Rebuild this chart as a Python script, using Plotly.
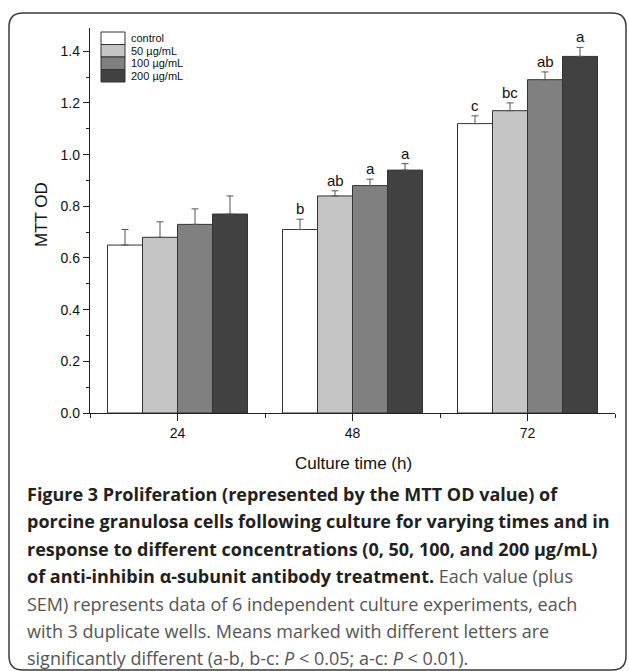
import plotly.graph_objects as go

# ---- data -------------------------------------------------------------
times = ["24", "48", "72"]
groups = ["control", "50 µg/mL", "100 µg/mL", "200 µg/mL"]
means = {
    "control":   [0.65, 0.71, 1.12],
    "50 µg/mL":  [0.68, 0.84, 1.17],
    "100 µg/mL": [0.73, 0.88, 1.29],
    "200 µg/mL": [0.77, 0.94, 1.38],
}
sem = {
    "control":   [0.06, 0.04, 0.03],
    "50 µg/mL":  [0.06, 0.02, 0.03],
    "100 µg/mL": [0.06, 0.025, 0.03],
    "200 µg/mL": [0.07, 0.025, 0.035],
}
letters = {
    "control":   ["", "b", "c"],
    "50 µg/mL":  ["", "ab", "bc"],
    "100 µg/mL": ["", "a", "ab"],
    "200 µg/mL": ["", "a", "a"],
}
fills = {
    "control": "#ffffff",
    "50 µg/mL": "#c5c5c5",
    "100 µg/mL": "#808080",
    "200 µg/mL": "#414141",
}

caption_lines = [
    "<b>Figure 3</b><b> Proliferation (represented by the MTT OD value) of</b>",
    "<b>porcine granulosa cells following culture for varying times and in</b>",
    "<b>response to different concentrations (0, 50, 100, and 200 µg/mL)</b>",
    "<b>of anti-inhibin α-subunit antibody treatment.</b><span style='color:#555'> Each value (plus</span>",
    "<span style='color:#555'>SEM) represents data of 6 independent culture experiments, each</span>",
    "<span style='color:#555'>with 3 duplicate wells. Means marked with different letters are</span>",
    "<span style='color:#555'>significantly different (a-b, b-c: <i>P</i> &lt; 0.05; a-c: <i>P</i> &lt; 0.01).</span>",
]

# ---- page geometry (pixels) -----------------------------------------
W, H = 629, 671
ML, MR, MT, MB = 90, 14, 28, 258
PW, PH = W - ML - MR, H - MT - MB


def px(x):
    return (x - ML) / PW


def py(y):
    return (H - MB - y) / PH


AX = "#222222"
FONT = "Liberation Sans, Arial, sans-serif"

fig = go.Figure()
xpos = list(range(len(times)))
for g in groups:
    fig.add_trace(go.Bar(
        x=xpos, y=means[g], name=g,
        marker=dict(color=fills[g], line=dict(color="#333333", width=1)),
        error_y=dict(type="data", array=sem[g], arrayminus=[0] * len(times),
                     symmetric=False, color="#555555", thickness=1, width=3.5),
        showlegend=False,
    ))

# significance letters above the error bars
ng = len(groups)
bw = 0.8 / ng
for gi, g in enumerate(groups):
    off = -0.4 + bw * (gi + 0.5)
    for ti in range(len(times)):
        if letters[g][ti]:
            fig.add_annotation(
                x=xpos[ti] + off, y=means[g][ti] + sem[g][ti],
                xref="x", yref="y", text=letters[g][ti], showarrow=False,
                yanchor="bottom", yshift=0,
                font=dict(family=FONT, size=15, color="#111111"),
            )

shapes = []
annotations = []

# legend swatches drawn as boxes in the upper-left corner
row_top = [32, 44.5, 57, 69.5]
row_h = 12.5
for gi, g in enumerate(groups):
    y0 = row_top[gi]
    shapes.append(dict(
        type="rect", xref="paper", yref="paper",
        x0=px(101), x1=px(125), y0=py(y0 + row_h), y1=py(y0),
        fillcolor=fills[g], line=dict(color="#333333", width=1),
    ))
    annotations.append(dict(
        x=px(129), y=py(y0 + row_h / 2), xref="paper", yref="paper",
        xanchor="left", yanchor="middle", showarrow=False, text=g,
        font=dict(family=FONT, size=11, color="#111111"),
    ))

# rounded frame around the figure and caption
L, T, R, B, r = 9, 13, 626, 670, 14
path = (
    f"M {px(L)} {py(T + r)} Q {px(L)} {py(T)} {px(L + r)} {py(T)} "
    f"L {px(R - r)} {py(T)} Q {px(R)} {py(T)} {px(R)} {py(T + r)} "
    f"L {px(R)} {py(B - r)} Q {px(R)} {py(B)} {px(R - r)} {py(B)} "
    f"L {px(L + r)} {py(B)} Q {px(L)} {py(B)} {px(L)} {py(B - r)} Z"
)
shapes.append(dict(type="path", xref="paper", yref="paper", path=path,
                   line=dict(color="#3a3a3a", width=1.5)))

# caption, one annotation per line
baselines = [501.0 + 27.4 * i for i in range(len(caption_lines))]
CAP = "Open Sans, Lato, sans-serif"
for txt, bl in zip(caption_lines, baselines):
    annotations.append(dict(
        x=px(25), y=py(bl - 7), xref="paper", yref="paper",
        xanchor="left", yanchor="middle", showarrow=False, align="left",
        text=txt, font=dict(family=CAP, size=18, color="#231f20"),
    ))

# axis titles
annotations.append(dict(
    x=px(41), y=py(215), xref="paper", yref="paper", showarrow=False,
    text="MTT OD", textangle=-90, xanchor="center", yanchor="middle",
    font=dict(family=FONT, size=17, color="#111111"),
))
annotations.append(dict(
    x=px(353), y=py(463), xref="paper", yref="paper", showarrow=False,
    text="Culture time (h)", xanchor="center", yanchor="middle",
    font=dict(family=FONT, size=17, color="#111111"),
))

for a in annotations:
    fig.add_annotation(**a)

fig.update_layout(
    width=W, height=H,
    margin=dict(l=ML, r=MR, t=MT, b=MB, pad=0),
    paper_bgcolor="white", plot_bgcolor="white",
    barmode="group", bargap=0.2, bargroupgap=0,
    shapes=shapes,
    font=dict(family=FONT, size=14, color="#111111"),
)
fig.update_xaxes(
    range=[-0.5, 2.5], tickmode="array", tickvals=xpos, ticktext=times,
    showline=True, linecolor=AX, linewidth=1.3, ticks="outside",
    ticklen=7, tickwidth=1.3, tickcolor=AX, showgrid=False, zeroline=False,
    tickfont=dict(size=14),
    minor=dict(tickmode="array", tickvals=[-0.5, 0.5, 1.5, 2.5],
               ticks="outside", ticklen=4, tickwidth=1.3, tickcolor=AX),
)
fig.update_yaxes(
    range=[0, 1.49], dtick=0.2, tick0=0, tickformat=".1f",
    showline=True, linecolor=AX, linewidth=1.3, ticks="outside",
    ticklen=6, tickwidth=1.3, tickcolor=AX, showgrid=False, zeroline=False,
    tickfont=dict(size=14),
    minor=dict(dtick=0.1, ticks="outside", ticklen=3, tickwidth=1.3,
               tickcolor=AX),
)

fig.write_html("out.html")
